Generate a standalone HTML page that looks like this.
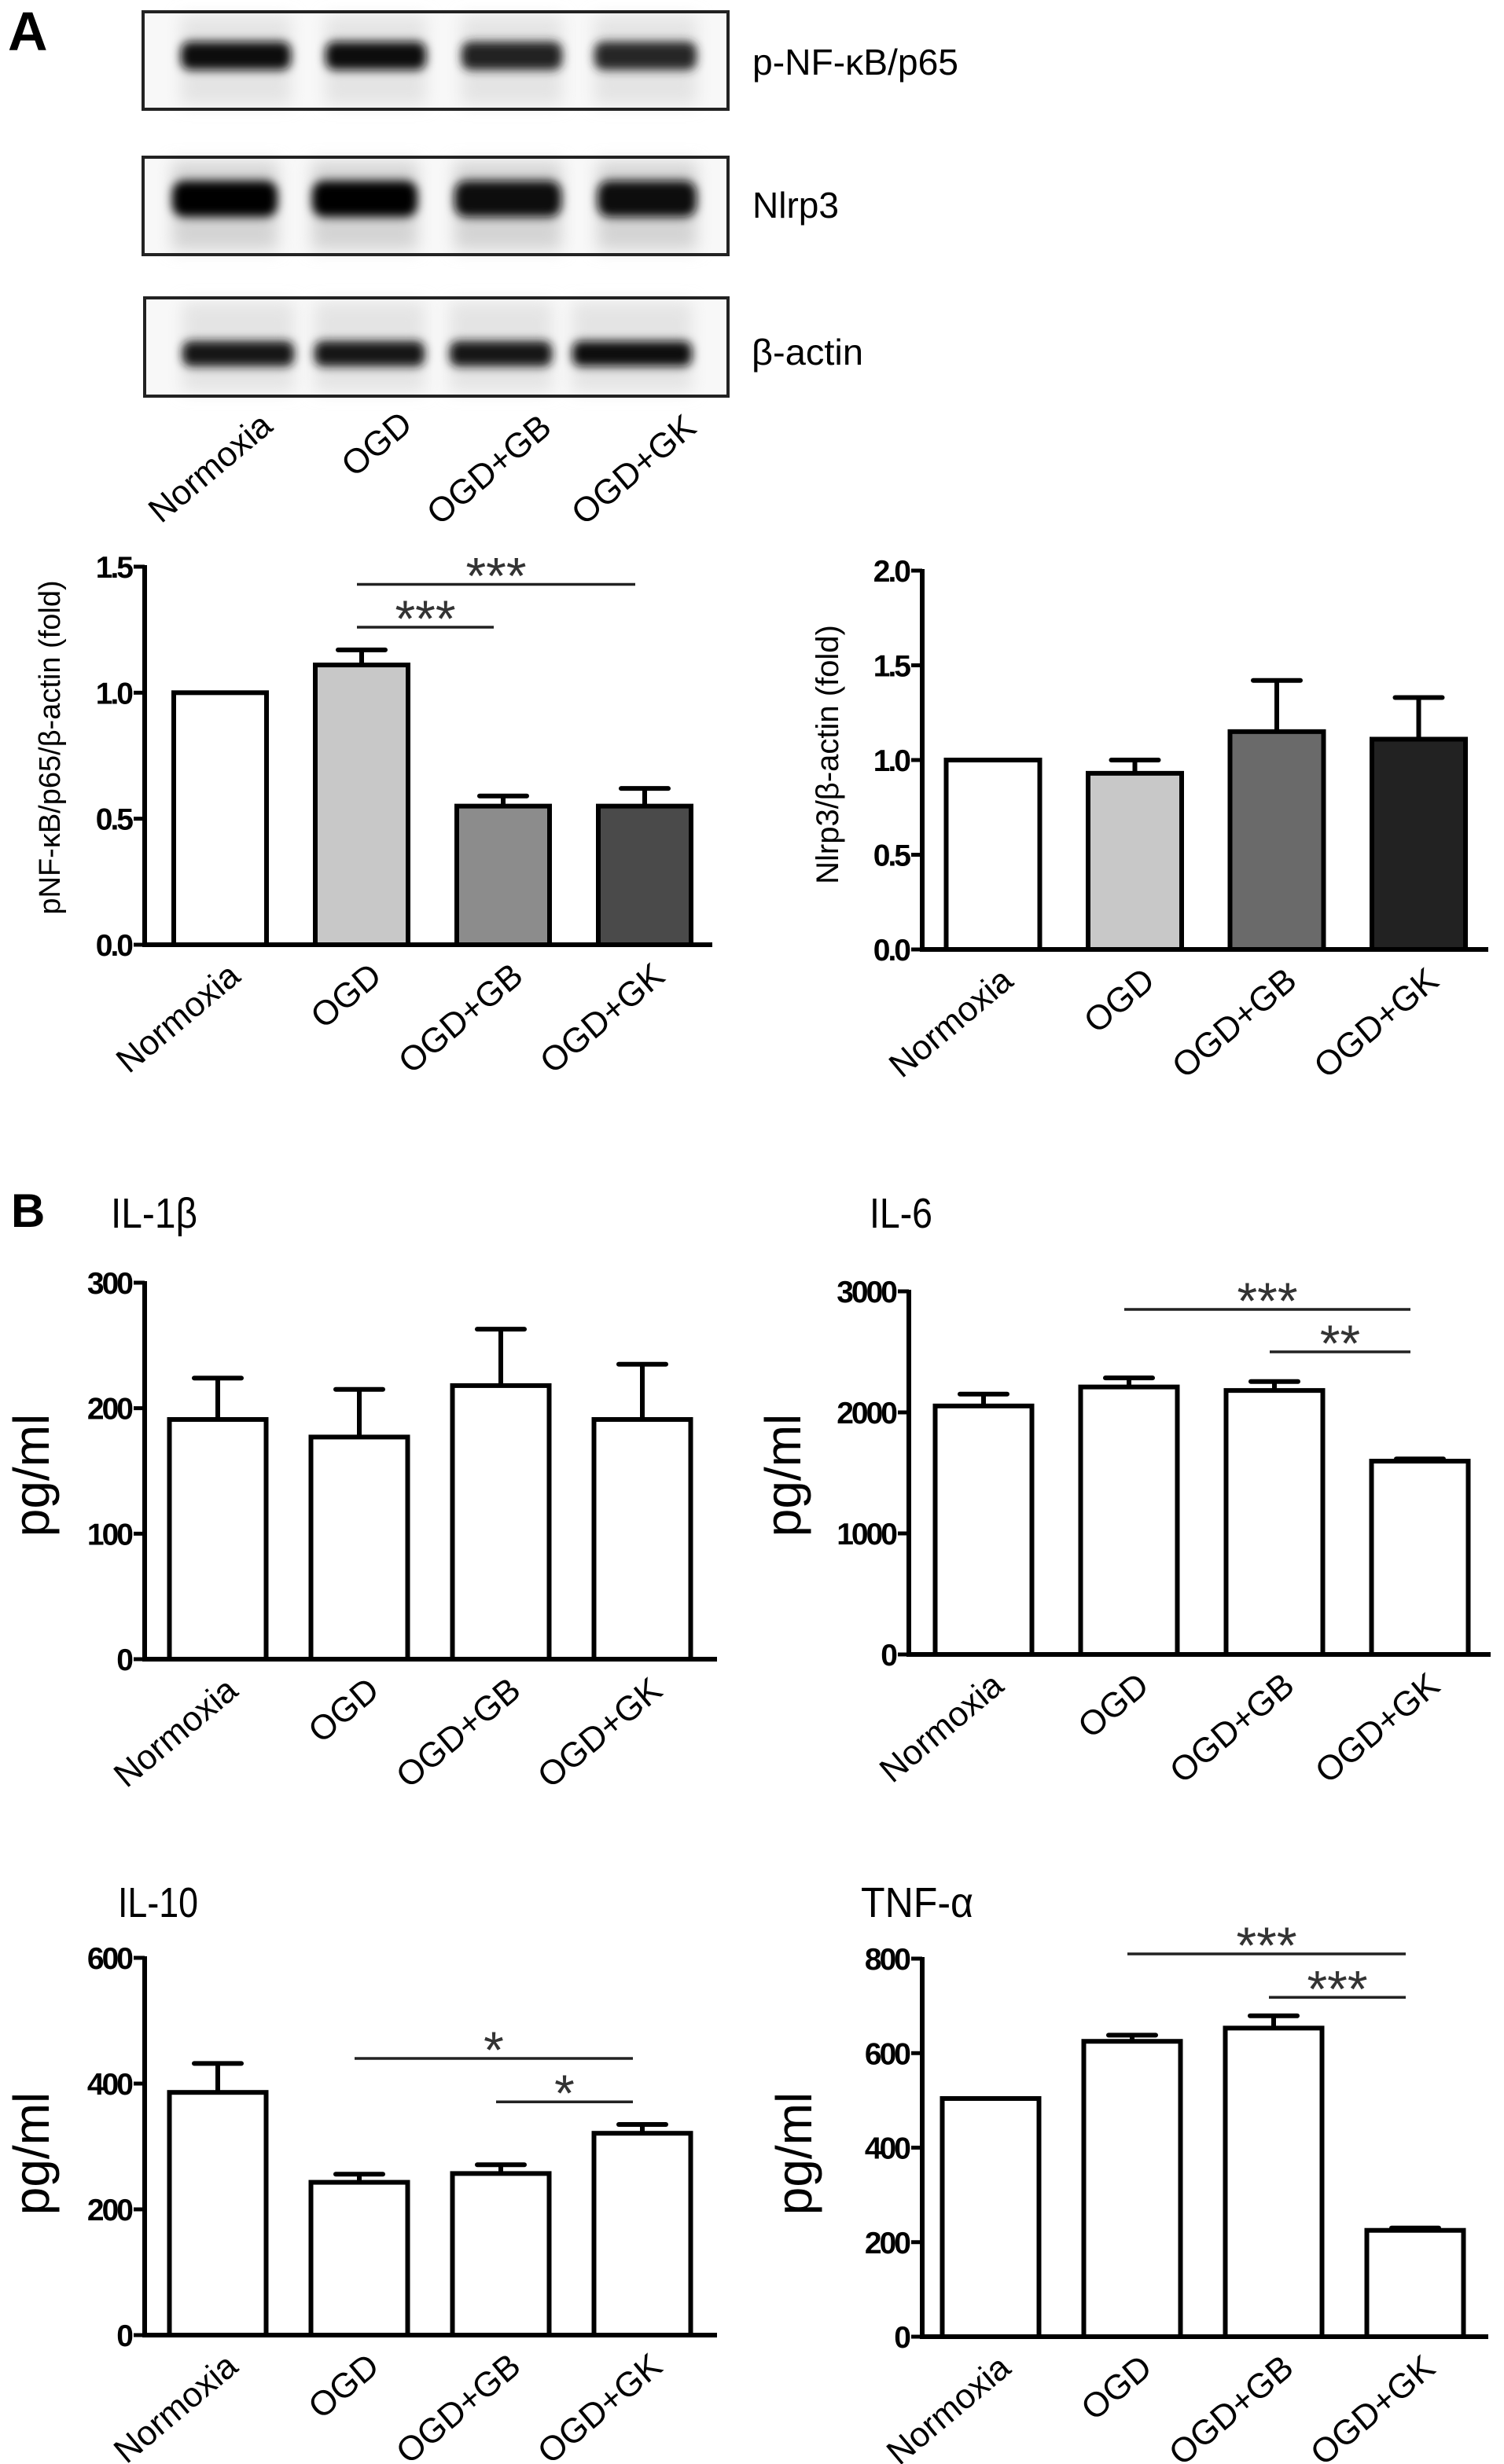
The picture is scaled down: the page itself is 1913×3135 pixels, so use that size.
<!DOCTYPE html>
<html><head><meta charset="utf-8">
<style>
html,body{margin:0;padding:0;background:#fff;}
svg{display:block;font-family:"Liberation Sans",Arial,sans-serif;}
text{font-family:"Liberation Sans",Arial,sans-serif;}
</style></head>
<body>
<svg id="fig" width="1913" height="3135" viewBox="0 0 1913 3135" xmlns="http://www.w3.org/2000/svg" font-family="Liberation Sans, Arial, sans-serif">
<defs>
<filter id="blur4" x="-20%" y="-60%" width="140%" height="220%"><feGaussianBlur stdDeviation="6"/></filter>
<filter id="blur8" x="-20%" y="-60%" width="140%" height="220%"><feGaussianBlur stdDeviation="10"/></filter>
</defs>
<rect width="1913" height="3135" fill="#fff"/>
<text x="10" y="64" font-size="70" font-weight="bold" fill="#000">A</text>
<text x="14" y="1561" font-size="60" font-weight="bold" fill="#000">B</text>

<g id="blots"></g>
<text x="957" y="95" font-size="46" textLength="262" lengthAdjust="spacingAndGlyphs">p-NF-κB/p65</text>
<text x="957" y="277" font-size="46" textLength="110" lengthAdjust="spacingAndGlyphs">Nlrp3</text>
<text x="956" y="464" font-size="46" textLength="142" lengthAdjust="spacingAndGlyphs">β-actin</text>

<text x="141" y="1562" font-size="54" textLength="110" lengthAdjust="spacingAndGlyphs">IL-1β</text>
<text x="1106" y="1562" font-size="54" textLength="80" lengthAdjust="spacingAndGlyphs">IL-6</text>
<text x="150" y="2439" font-size="54" textLength="102" lengthAdjust="spacingAndGlyphs">IL-10</text>
<text x="1095" y="2439" font-size="54" textLength="143" lengthAdjust="spacingAndGlyphs">TNF-α</text>

<g id="charts"></g>
</svg>
<script>
const NS='http://www.w3.org/2000/svg';
const categories=['Normoxia','OGD','OGD+GB','OGD+GK'];
// chart A1: pNF-kB
const nfkbValues=[1.0,1.11,0.55,0.55];
const nfkbErrors=[0,0.06,0.04,0.07];
const nfkbTicks=['0.0','0.5','1.0','1.5'];
const nfkbSig=[[1,3,'***',1.43],[1,2,'***',1.26]];
// chart A2: Nlrp3
const nlrpValues=[1.0,0.93,1.15,1.11];
const nlrpErrors=[0,0.07,0.27,0.22];
const nlrpTicks=['0.0','0.5','1.0','1.5','2.0'];
// IL-1b
const il1bValues=[191,177,218,191];
const il1bErrors=[33,38,45,44];
const il1bTicks=['0','100','200','300'];
// IL-6
const il6Values=[2053,2210,2181,1597];
const il6Errors=[98,75,74,18];
const il6Ticks=['0','1000','2000','3000'];
const il6Sig=[[1,3,'***',2851],[2,3,'**',2500]];
// IL-10
const il10Values=[386,243,257,321];
const il10Errors=[46,13,14,14];
const il10Ticks=['0','200','400','600'];
const il10Sig=[[1,3,'*',440],[2,3,'*',371]];
// TNF-a
const tnfValues=[504,625,653,225];
const tnfErrors=[0,13,26,5];
const tnfTicks=['0','200','400','600','800'];
const tnfSig=[[1,3,'***',810],[2,3,'***',718]];

const root=document.getElementById('charts');
function mk(tag,attrs,parent){const e=document.createElementNS(NS,tag);for(const k in attrs)e.setAttribute(k,attrs[k]);(parent||root).appendChild(e);return e;}

function drawChart(o){
  const g=mk('g',{});
  
  
  const ticks=o.ticks, vmax=parseFloat(ticks[ticks.length-1]);
  const yS=v=>o.y0-(v/vmax)*(o.y0-o.yTop);
  const xC=i=>o.ax+o.off+i*o.step;
  o.values.forEach((v,i)=>{
    const cx=xC(i), e=o.errors[i];
    if(e>0){
      const l=mk('line',{x1:cx,x2:cx,y1:yS(v),y2:yS(v+e),stroke:'#000','stroke-width':6},g);
      
      
      const c=mk('line',{x1:cx-30,x2:cx+30,y1:yS(v+e),y2:yS(v+e),stroke:'#000','stroke-width':6,'stroke-linecap':'round'},g);
      
      
    }
    const r=mk('rect',{x:cx-o.bw/2,y:yS(v),width:o.bw,height:o.y0-yS(v),fill:o.fills[i],stroke:'#000','stroke-width':6},g);
    
    
    const lx=cx+28, ly=o.y0+44;
    const t=mk('text',{x:lx,y:ly,'font-size':44,'text-anchor':'end',transform:`rotate(-40 ${lx} ${ly})`},g);
    t.textContent=categories[i];
    
    
  });
  const ya=mk('line',{x1:o.ax,x2:o.ax,y1:o.yTop-2,y2:o.y0+3,stroke:'#000','stroke-width':6},g);
  
  
  const xa=mk('line',{x1:o.ax-3,x2:o.axEnd,y1:o.y0,y2:o.y0,stroke:'#000','stroke-width':6},g);
  
  
  ticks.forEach(tk=>{
    const y=yS(parseFloat(tk));
    const tl=mk('line',{x1:o.ax-14,x2:o.ax,y1:y,y2:y,stroke:'#000','stroke-width':5},g);
    
    
    const tt=mk('text',{x:o.ax-17,y:y+14,'font-size':39,'font-weight':'bold','text-anchor':'end','letter-spacing':'-3'},g);
    tt.textContent=tk;
    
    
  });
  const yl=mk('text',{x:o.ylX,y:o.ylY,'font-size':o.ylFs,'text-anchor':'middle',transform:`rotate(-90 ${o.ylX} ${o.ylY})`},g);
  yl.textContent=o.ylabel;
  
  
  (o.sig||[]).forEach(s=>{
    const y=yS(s[3]);
    const x1=xC(s[0])-6, x2=xC(s[1])-12;
    const sl=mk('line',{x1:x1,x2:x2,y1:y,y2:y,stroke:'#222','stroke-width':3.5},g);
    
    
    const st=mk('text',{x:(x1+x2)/2,y:y+12,'font-size':66,'text-anchor':'middle',fill:'#333'},g);
    st.textContent=s[2];
    
    
  });
}

drawChart({name:'chart-pnfkb',values:nfkbValues,errors:nfkbErrors,ticks:nfkbTicks,sig:nfkbSig,ax:184,axEnd:906,y0:1202,yTop:721,off:96,step:180,bw:118,fills:['#fff','#c8c8c8','#8c8c8c','#4a4a4a'],ylabel:'pNF-κB/p65/β-actin (fold)',ylX:76,ylY:951,ylFs:38});
drawChart({name:'chart-nlrp3',values:nlrpValues,errors:nlrpErrors,ticks:nlrpTicks,ax:1173,axEnd:1893,y0:1208,yTop:726,off:90,step:180.5,bw:119,fills:['#fff','#c8c8c8','#6a6a6a','#222'],ylabel:'Nlrp3/β-actin (fold)',ylX:1066,ylY:960,ylFs:40});
drawChart({name:'chart-il1b',values:il1bValues,errors:il1bErrors,ticks:il1bTicks,ax:184,axEnd:912,y0:2111,yTop:1632,off:93,step:180,bw:123,fills:['#fff','#fff','#fff','#fff'],ylabel:'pg/ml',ylX:62,ylY:1877,ylFs:64});
drawChart({name:'chart-il6',values:il6Values,errors:il6Errors,ticks:il6Ticks,sig:il6Sig,ax:1156,axEnd:1896,y0:2105,yTop:1643,off:95,step:185,bw:123,fills:['#fff','#fff','#fff','#fff'],ylabel:'pg/ml',ylX:1018,ylY:1877,ylFs:64});
drawChart({name:'chart-il10',values:il10Values,errors:il10Errors,ticks:il10Ticks,sig:il10Sig,ax:184,axEnd:912,y0:2971,yTop:2491,off:93,step:180,bw:123,fills:['#fff','#fff','#fff','#fff'],ylabel:'pg/ml',ylX:62,ylY:2740,ylFs:64});
drawChart({name:'chart-tnfa',values:tnfValues,errors:tnfErrors,ticks:tnfTicks,sig:tnfSig,ax:1173,axEnd:1893,y0:2973,yTop:2492,off:87,step:180,bw:123,fills:['#fff','#fff','#fff','#fff'],ylabel:'pg/ml',ylX:1032,ylY:2740,ylFs:64});

const blots=document.getElementById('blots');
const boxes=[[182,15,744,124],[182,200,744,124],[184,379,742,125]];
const bandSets=[
  {cy:71,h:36,lanes:[[300,140,'#0c0c0c'],[478,128,'#101010'],[651,128,'#222'],[821,130,'#262626']]},
  {cy:253,h:46,lanes:[[286,134,'#050505'],[464,134,'#050505'],[646,136,'#080808'],[823,126,'#080808']]},
  {cy:450,h:32,lanes:[[303,142,'#181818'],[470,140,'#181818'],[637,130,'#121212'],[804,152,'#101010']]}
];
bandSets.forEach((bs,bi)=>{
  const b=boxes[bi];
  const r=mk('rect',{x:b[0],y:b[1],width:b[2],height:b[3],fill:'#f8f8f8',stroke:'none'},blots);
  
  
  bs.lanes.forEach(l=>{
    const sm=mk('rect',{x:l[0]-l[1]/2,y:b[1]+6,width:l[1],height:b[3]-12,fill:bi===1?'#d4d4d4':'#e4e4e4',filter:'url(#blur8)'},blots);
    
    
    const e=mk('rect',{x:l[0]-l[1]/2,y:bs.cy-bs.h/2,width:l[1],height:bs.h,rx:bs.h/3,fill:l[2],filter:'url(#blur4)'},blots);
    
    
  });
  const fr=mk('rect',{x:b[0],y:b[1],width:b[2],height:b[3],fill:'none',stroke:'#222','stroke-width':4},blots);
  
  
});
const laneEnds=[[349,520],[527,518],[704,522],[888,522]];
categories.forEach((c,i)=>{
  const p=laneEnds[i];
  const t=mk('text',{x:p[0],y:p[1]+26,'font-size':44,'text-anchor':'end',transform:`rotate(-40 ${p[0]} ${p[1]+26})`},blots);
  t.textContent=c;
  
  
});
</script>
</body></html>
